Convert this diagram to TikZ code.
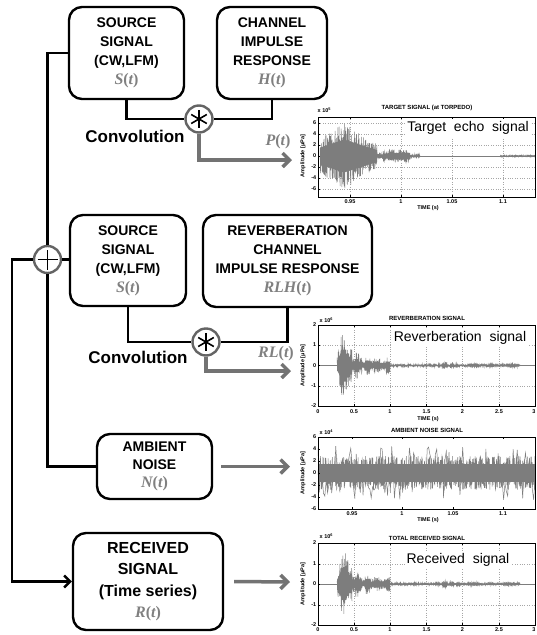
\documentclass[tikz,border=0pt]{standalone}
\usepackage{fontspec}
\setmainfont{Liberation Sans}
\newfontfamily\mathlabfont{Liberation Serif}
\usetikzlibrary{arrows.meta}
\definecolor{arrowgray}{RGB}{115,115,115}
\definecolor{wavegray}{RGB}{125,125,125}
\definecolor{mathgray}{RGB}{128,128,128}
\definecolor{ringgray}{RGB}{100,100,100}
\newcommand{\mlab}[2]{{\color{mathgray}\fontsize{16}{16}\mathlabfont\bfseries\itshape #1\upshape(\itshape #2\upshape)}}
\newcommand{\wseg}[5]{%
 \fill[wavegray] plot[domain=#1:#2, samples=6] (\x,{#3-0.5*(#4)}) -- plot[domain=#2:#1, samples=6] (\x,{#3+0.5*(#4)}) -- cycle;
 \draw[wavestyle] plot[domain=#1:#2, samples=#5] (\x,{#3+(#4)*rand});}
\newcommand{\reverbwave}[1]{%
 \draw[wavestyle] (318,#1) -- (535,#1);
 \wseg{337}{341}{#1}{8+18*(\x-337)/4}{24}
 \wseg{341}{346}{#1}{32}{30}
 \wseg{346}{349}{#1}{24}{18}
 \wseg{349}{352}{#1}{18}{18}
 \wseg{352}{355}{#1}{8}{18}
 \wseg{355}{359}{#1}{13}{24}
 \wseg{359}{362}{#1}{8}{18}
 \wseg{362}{365}{#1}{4}{18}
 \wseg{365}{370}{#1}{10}{30}
 \wseg{370}{374}{#1}{5}{24}
 \wseg{374}{380}{#1}{7}{36}
 \wseg{380}{386}{#1}{5}{36}
 \wseg{386}{390}{#1}{8}{24}
 \wseg{390}{520}{#1}{1.4}{500}
 \wseg{442}{447}{#1}{3.5}{25}
 \wseg{450}{454}{#1}{2.5}{20}
 \wseg{456}{459}{#1}{2}{15}
 \wseg{468}{479}{#1}{1.8}{50}
 \wseg{489}{494}{#1}{1.5}{25}
 \wseg{504}{519}{#1}{1.4}{60}
}
\begin{document}
\begin{tikzpicture}[x=1pt,y=-1pt,
 blockbox/.style={draw=black, line width=2.4pt, rounded corners=13pt, fill=white, align=center, inner sep=0pt, font=\fontsize{14}{19}\selectfont\bfseries},
 wire/.style={draw=black, line width=2.4pt},
 feed/.style={wire, -{Straight Barb[length=6pt,width=12pt]}},
 grayarrow/.style={draw=arrowgray, line width=3.5pt, -{Straight Barb[length=7pt,width=14pt]}},
 opcirc/.style={circle, draw=ringgray, line width=2.4pt, fill=white, minimum size=27pt, inner sep=0pt},
 convlabel/.style={font=\fontsize{17}{17}\selectfont\bfseries, inner sep=0pt},
 siglabel/.style={inner sep=0pt},
 wavestyle/.style={draw=wavegray, line width=0.5pt},
 gridline/.style={draw=gray!70, dotted, line width=0.4pt},
 axframe/.style={draw=black, line width=0.5pt},
 ticklab/.style={font=\fontsize{5.5}{6}\selectfont\bfseries, inner sep=0.5pt},
 ptitle/.style={font=\fontsize{6}{7}\selectfont\bfseries, inner sep=0pt},
 ylab/.style={font=\fontsize{5.5}{6}\selectfont\bfseries, rotate=90, inner sep=0pt},
 note/.style={font=\fontsize{14}{14}\selectfont, fill=white, inner sep=2pt},
]
\useasboundingbox (0,0) rectangle (536,635);
\pgfmathsetseed{7}

% ---------------- blocks ----------------
\node[blockbox, minimum width=115pt, minimum height=92pt] (src1) at (126.5,53) {SOURCE\\SIGNAL\\(CW,LFM)\\\mlab{S}{t}};
\node[blockbox, minimum width=110pt, minimum height=92pt] (chan) at (272,53) {CHANNEL\\IMPULSE\\RESPONSE\\\mlab{H}{t}};
\node[blockbox, minimum width=116pt, minimum height=91pt] (src2) at (128,260.5) {SOURCE\\SIGNAL\\(CW,LFM)\\\mlab{S}{t}};
\node[blockbox, minimum width=169pt, minimum height=92pt] (rlh) at (287.5,261) {REVERBERATION\\CHANNEL\\IMPULSE RESPONSE\\\mlab{RLH}{t}};
\node[blockbox, minimum width=115pt, minimum height=65pt, font=\fontsize{14}{18}\selectfont\bfseries] (noise) at (154.5,466.5) {AMBIENT\\NOISE\\\mlab{N}{t}};
\node[blockbox, minimum width=150pt, minimum height=97pt, font=\fontsize{16}{21.5}\selectfont\bfseries] (recv) at (148,581.5) {RECEIVED\\SIGNAL\\(Time series)\\\mlab{R}{t}};

% ---------------- operators ----------------
\node[opcirc] (plus) at (47.5,259.5) {};
\draw[line width=1.8pt] ([xshift=-10pt]plus.center) -- ([xshift=10pt]plus.center);
\draw[line width=1.8pt] ([yshift=-10pt]plus.center) -- ([yshift=10pt]plus.center);
\node[opcirc] (conv1) at (199,119) {};
\node[opcirc] (conv2) at (206,342) {};
\foreach \c in {conv1,conv2}{
  \foreach \a in {90,30,150}
    \draw[line width=1.6pt] ([shift={(\a:9pt)}]\c.center) -- ([shift={(\a+180:9pt)}]\c.center);
}

% ---------------- wires ----------------
\coordinate (leftbus) at (12,259.5);
\draw[wire] (src1.west) -| (plus.north);
\draw[wire] (plus.east) -- (plus.east -| src2.west);
\draw[wire] (plus.south) |- (noise.west);
\draw[feed] (plus.west) -- (leftbus) |- (recv.west);
\draw[wire] (src1.south) |- (conv1.west);
\draw[wire] (chan.south) |- (conv1.east);
\draw[wire] (src2.south) |- (conv2.west);
\draw[wire] (rlh.south) |- (conv2.east);

\node[convlabel] (cv1) at (135,136) {Convolution};
\node[convlabel] (cv2) at (138,357) {Convolution};

\coordinate (p1in) at (292,160);
\coordinate (p2in) at (291,371);
\coordinate (p3in) at (290,466.5);
\coordinate (p4in) at (290,582);
\draw[grayarrow] (conv1.south) |- (p1in);
\draw[grayarrow] (conv2.south) |- (p2in);
\draw[grayarrow] ([xshift=8pt]noise.east) -- (p3in);
\draw[grayarrow] ([xshift=10pt]recv.east) -- (p4in);
\node[siglabel] (plab) at (278,142) {\mlab{P}{t}};
\node[siglabel] (rllab) at (276,354) {\mlab{RL}{t}};

% ---------------- plot 1: target ----------------
\foreach \yy in {123,134,145,156,167,178,189} \draw[gridline] (318,\yy) -- (535,\yy);
\foreach \xx in {350,401,452,503} \draw[gridline] (\xx,117) -- (\xx,197);
\draw[wavestyle] (318,156) -- (535,156);
\wseg{320}{344}{156}{17+16*(\x-320)/24}{140}
\wseg{344}{377}{156}{33-21*(\x-344)/33}{190}
\wseg{377}{383}{156}{3}{30}
\wseg{383}{388}{156}{5}{25}
\wseg{388}{410}{156}{6.5}{110}
\wseg{410}{420}{156}{1.5}{50}
\wseg{500}{535}{156}{1}{150}
\node[note] (n1) at (468,128) {Target\ \ echo\ \ signal};
\draw[axframe] (318,117) rectangle (535,197);
\foreach \yy in {123,134,145,156,167,178,189} {\draw[axframe] (318,\yy) -- (320,\yy);}
\foreach \xx in {350,401,452,503} {\draw[axframe] (\xx,197) -- (\xx,195); \draw[axframe] (\xx,117) -- (\xx,119);}
\foreach \v/\yy [count=\i] in {6/123,4/134,2/145,0/156,-2/167,-4/178,-6/189} \node[ticklab, anchor=east] (ay\i) at (317,\yy) {\v};
\foreach \v/\xx [count=\i] in {0.95/350,1/401,1.05/452,1.1/503} \node[ticklab] (ax\i) at (\xx,202) {\v};
\node[ptitle] (ti1) at (427,108) {TARGET SIGNAL (at TORPEDO)};
\node[ticklab, anchor=west] (ex1) at (317,110) {x 10\textsuperscript{5}};
\node[ticklab] (tm1) at (428,208) {TIME (s)};
\node[ylab] (yl1) at (303,156) {Amplitude [μPa]};

% ---------------- plot 2: reverberation ----------------
\foreach \yy in {345,386} \draw[gridline] (318,\yy) -- (535,\yy);
\foreach \xx in {354,390,426.5,462.5,499} \draw[gridline] (\xx,325) -- (\xx,406);
\reverbwave{365.5}
\node[note] (n2) at (460,338) {Reverberation\ \ signal};
\draw[axframe] (318,325) rectangle (535,406);
\foreach \yy in {345,365.5,386} {\draw[axframe] (318,\yy) -- (320,\yy);}
\foreach \xx in {354,390,426.5,462.5,499} {\draw[axframe] (\xx,406) -- (\xx,404); \draw[axframe] (\xx,325) -- (\xx,327);}
\foreach \v/\yy [count=\i] in {2/325,1/345,0/365.5,-1/386,-2/406} \node[ticklab, anchor=east] (by\i) at (317,\yy) {\v};
\foreach \v/\xx [count=\i] in {0/318,0.5/354,1/390,1.5/426.5,2/462.5,2.5/499,3/534} \node[ticklab] (bx\i) at (\xx,412) {\v};
\node[ptitle] (ti2) at (427,318) {REVERBERATION SIGNAL};
\node[ticklab, anchor=west] (ex2) at (319,320) {x 10\textsuperscript{6}};
\node[ticklab] (tm2) at (428,419) {TIME (s)};
\node[ylab] (yl2) at (303,365.5) {Amplitude [μPa]};

% ---------------- plot 3: ambient noise ----------------
\fill[wavegray] (318,464) rectangle (535,482);
\draw[wavestyle] plot[domain=318:535, samples=1100] (\x,{473+17*rand});
\draw[wavestyle] plot[domain=318:535, samples=160] (\x,{473+27*rand});
\draw[axframe] (318,437) rectangle (535,509);
\foreach \yy in {449,461,473,485,497} {\draw[axframe] (318,\yy) -- (320,\yy);}
\foreach \xx in {352,402,453,503} {\draw[axframe] (\xx,509) -- (\xx,507); \draw[axframe] (\xx,437) -- (\xx,439);}
\foreach \v/\yy [count=\i] in {6/437,4/449,2/461,0/473,-2/485,-4/497,-6/509} \node[ticklab, anchor=east] (cy\i) at (317,\yy) {\v};
\foreach \v/\xx [count=\i] in {0.95/352,1/402,1.05/453,1.1/503} \node[ticklab] (cx\i) at (\xx,514) {\v};
\node[ptitle] (ti3) at (427,430) {AMBIENT NOISE SIGNAL};
\node[ticklab, anchor=west] (ex3) at (319,432) {x 10\textsuperscript{4}};
\node[ticklab] (tm3) at (428,520) {TIME (s)};
\node[ylab] (yl3) at (303,473) {Amplitude [μPa]};

% ---------------- plot 4: received ----------------
\foreach \yy in {564,605} \draw[gridline] (318,\yy) -- (535,\yy);
\foreach \xx in {354,390,426.5,462.5,499} \draw[gridline] (\xx,543) -- (\xx,625);
\begin{scope}[shift={(0,218.5)}]
\reverbwave{365.5}
\end{scope}
\node[note] (n4) at (458,560) {Received\ \ signal};
\draw[axframe] (318,543) rectangle (535,625);
\foreach \yy in {564,584,605} {\draw[axframe] (318,\yy) -- (320,\yy);}
\foreach \xx in {354,390,426.5,462.5,499} {\draw[axframe] (\xx,625) -- (\xx,623); \draw[axframe] (\xx,543) -- (\xx,545);}
\foreach \v/\yy [count=\i] in {2/543,1/564,0/584,-1/605,-2/625} \node[ticklab, anchor=east] (dy\i) at (317,\yy) {\v};
\foreach \v/\xx [count=\i] in {0/318,0.5/354,1/390,1.5/426.5,2/462.5,2.5/499,3/534} \node[ticklab] (dx\i) at (\xx,630) {\v};
\node[ptitle] (ti4) at (427,538) {TOTAL RECEIVED SIGNAL};
\node[ticklab, anchor=west] (ex4) at (319,536) {x 10\textsuperscript{6}};
\node[ylab] (yl4) at (303,584) {Amplitude [μPa]};
\end{tikzpicture}
\end{document}
